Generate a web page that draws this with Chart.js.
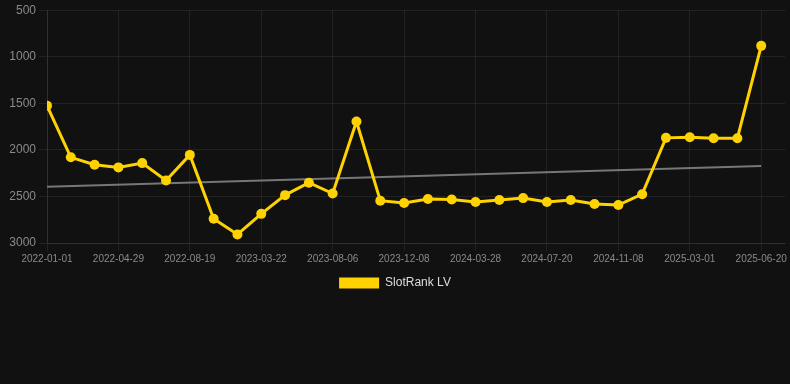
<!DOCTYPE html>
<html>
<head>
<meta charset="utf-8">
<script src="https://cdn.jsdelivr.net/npm/chart.js@4.4.1/dist/chart.umd.min.js"></script>
<style>
    html, body { margin: 0; padding: 0; background: #111111; }
    #wrap { width: 790px; height: 299px; position: relative; }
</style>
</head>
<body>
<div id="wrap"><canvas id="chart"></canvas></div>
<script>
// dates (one per point)
var dates = ['2022-01-01', '2022-02-09', '2022-03-20', '2022-04-29', '2022-06-05', '2022-07-12',
             '2022-08-19', '2022-11-01', '2023-01-10', '2023-03-22', '2023-05-08', '2023-06-22',
             '2023-08-06', '2023-09-18', '2023-10-28', '2023-12-08', '2024-01-14', '2024-02-20',
             '2024-03-28', '2024-05-05', '2024-06-12', '2024-07-20', '2024-08-26', '2024-10-02',
             '2024-11-08', '2024-12-14', '2025-01-20', '2025-03-01', '2025-04-06', '2025-05-13',
             '2025-06-20'];

// rank values
var ranks = [1525, 2080, 2160, 2188, 2142, 2328, 2054, 2740, 2908, 2687, 2486, 2353,
             2469, 1695, 2546, 2571, 2528, 2532, 2560, 2539, 2518, 2560, 2539, 2581,
             2592, 2476, 1871, 1864, 1875, 1875, 883];

// trend line ends
var trendIndex = [0, 30];
var trendValues = [2396, 2174];

// y ticks
var yMin = 500;
var yMax = 3000;
var yStep = 500;

// series name
var seriesName = 'SlotRank LV';

var yellow = '#ffd200';
var gridColor = 'rgba(255,255,255,0.07)';
var tickColor = '#8a8a8a';
var fontFamily = 'Arial, "Liberation Sans", sans-serif';

// build points
var rankPoints = ranks.map(function(v, i) { return { x: i, y: v }; });
var trendPoints = trendIndex.map(function(i, k) { return { x: i, y: trendValues[k] }; });

new Chart(document.getElementById('chart'), {
    type: 'line',
    data: {
        datasets: [{
            label: seriesName,
            data: rankPoints,
            borderColor: yellow,
            backgroundColor: yellow,
            borderWidth: 3,
            pointRadius: 5,
            pointBackgroundColor: yellow,
            pointBorderColor: yellow,
            pointBorderWidth: 0,
            tension: 0
        }, {
            label: 'trend',
            data: trendPoints,
            borderColor: '#777777',
            borderWidth: 2,
            pointRadius: 0,
            fill: false
        }]
    },
    options: {
        responsive: true,
        maintainAspectRatio: false,
        animation: false,
        layout: { padding: 0 },
        scales: {
            x: {
                type: 'linear',
                bounds: 'data',
                min: 0,
                max: 31,
                afterFit: function(scale) { scale.paddingRight = 0; },
                grid: {
                    tickLength: 8,
                    color: function(ctx) {
                        var v = ctx.tick ? ctx.tick.value : 0;
                        return dates[v] !== undefined ? gridColor : 'rgba(0,0,0,0)';
                    }
                },
                border: { color: gridColor },
                ticks: {
                    stepSize: 3,
                    includeBounds: false,
                    maxRotation: 0,
                    autoSkip: false,
                    padding: 2,
                    color: tickColor,
                    font: { family: fontFamily, size: 10 },
                    callback: function(value) {
                        return dates[value] !== undefined ? dates[value] : '';
                    }
                }
            },
            y: {
                reverse: true,
                min: yMin,
                max: yMax,
                afterFit: function(scale) { scale.width = 47; },
                grid: { color: gridColor, tickLength: 8 },
                border: { color: gridColor },
                ticks: {
                    stepSize: yStep,
                    color: tickColor,
                    font: { family: fontFamily, size: 12 },
                    callback: function(value) { return String(value); }
                }
            }
        },
        plugins: {
            legend: {
                position: 'bottom',
                labels: {
                    color: '#dddddd',
                    boxWidth: 40,
                    boxHeight: 11,
                    font: { family: fontFamily, size: 12 },
                    filter: function(item) { return item.text !== 'trend'; },
                    generateLabels: function(chart) {
                        var items = Chart.defaults.plugins.legend.labels.generateLabels(chart);
                        items.forEach(function(item) { item.lineWidth = 0; });
                        return items;
                    }
                }
            },
            tooltip: { enabled: false }
        }
    }
});
</script>
</body>
</html>
